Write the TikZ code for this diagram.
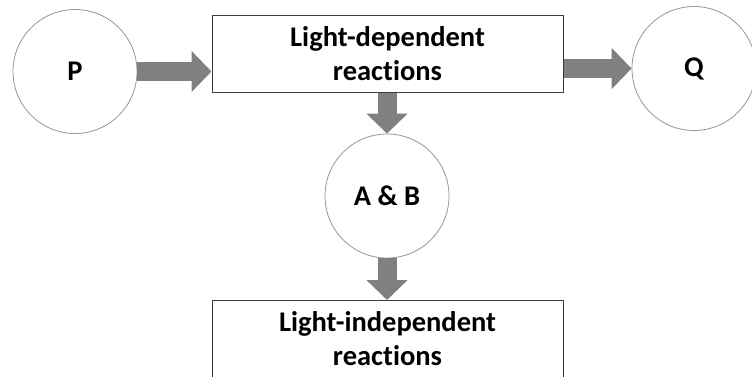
\documentclass[tikz,border=0pt]{standalone}
\usepackage{fontspec}
\setmainfont[Ligatures={NoCommon}]{Carlito}
\usetikzlibrary{arrows.meta}
\definecolor{arrowgray}{RGB}{128,128,128}
\definecolor{circgray}{RGB}{150,150,150}
\definecolor{boxgray}{RGB}{60,60,60}
\begin{document}
\begin{tikzpicture}[x=1pt,y=-1pt,
  txt/.style={font=\fontsize{28.5}{34}\selectfont\bfseries, align=center, text=black},
  circ/.style={txt, circle, draw=circgray, line width=0.8pt, minimum size=124pt, inner sep=0pt, fill=white},
  rbox/.style={txt, rectangle, draw=boxgray, line width=1pt, minimum width=351pt, minimum height=77pt, inner sep=0pt, fill=white},
  fat/.style={draw=arrowgray, line width=19pt, -{Triangle[width=40pt,length=20pt]}}
]
\useasboundingbox (0,0) rectangle (752,376);
\node[circ] (P) at (75,71.5) {P};
\node[rbox] (LD) at (387.5,53.5) {Light-dependent\\reactions};
\node[circ] (Q) at (694,68.5) {Q};
\node[circ] (AB) at (387,196) {A \& B};
\node[rbox] (LI) at (387.5,339) {Light-independent\\reactions};
\draw[fat] (P.east) -- (P.east -| LD.west);
\draw[fat] (LD.east |- Q.west) -- (Q.west);
\draw[fat] (LD.south -| AB.north) -- (AB.north);
\draw[fat] (AB.south) -- (AB.south |- LI.north);
\end{tikzpicture}
\end{document}
